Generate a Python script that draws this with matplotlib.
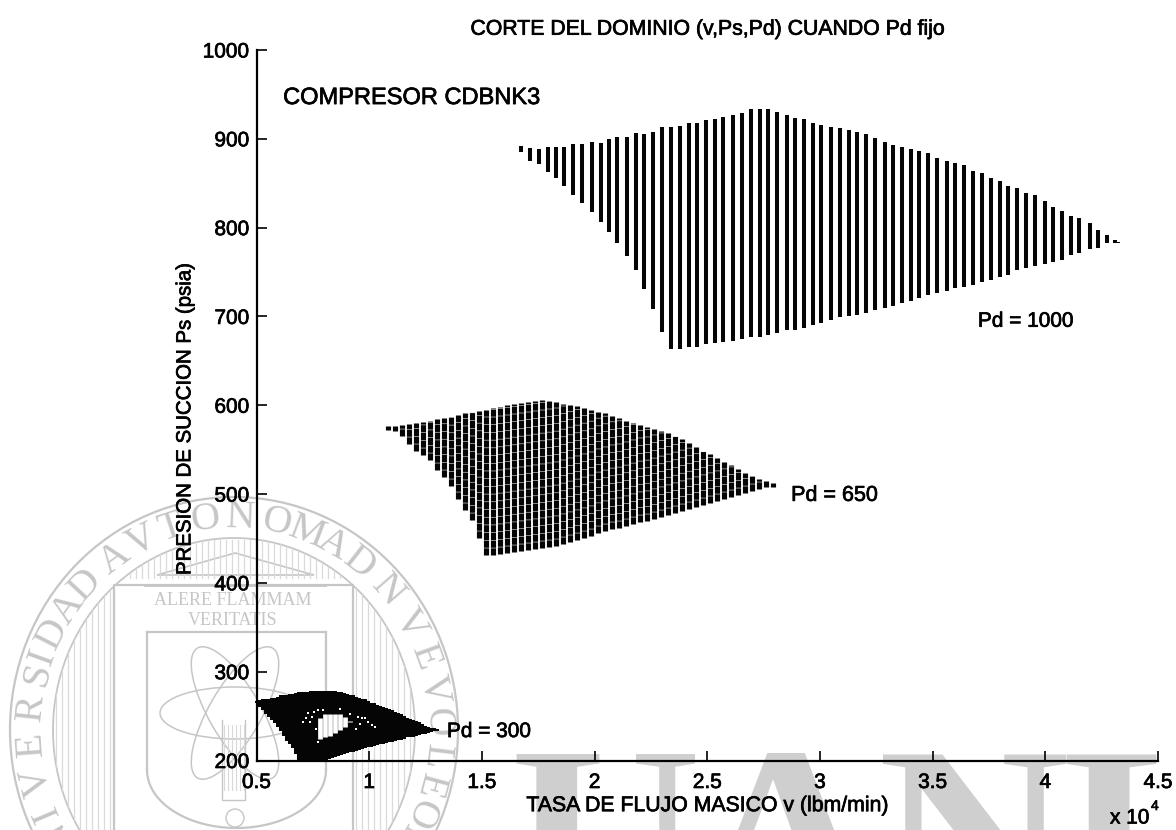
import numpy as np
import matplotlib
matplotlib.use("Agg")
import matplotlib.pyplot as plt
from matplotlib.patches import Ellipse, Polygon, Circle
import matplotlib.patheffects as pe

plt.rcParams['font.family'] = ['Liberation Sans', 'DejaVu Sans']

# Pd = 1000 columns: flow (x 10^4 lbm/min), lowest and highest suction pressure (psia)
v_1000 = [1.672,1.714,1.753,1.792,1.829,1.864,1.906,1.944,1.987,2.027,2.063,2.101,2.143,2.182,2.221,2.259,2.299,2.339,
          2.379,2.419,2.455,2.494,2.534,2.571,2.616,2.656,2.693,2.733,2.770,2.808,2.853,2.889,2.928,2.969,3.006,3.049,
          3.088,3.128,3.166,3.203,3.243,3.287,3.324,3.363,3.403,3.441,3.481,3.521,3.562,3.601,3.639,3.679,3.718,3.760,
          3.800,3.836,3.876,3.916,3.955,3.997,4.034,4.074,4.113,4.149,4.197,4.235,4.272,4.309,4.322]
hi_1000 = [892,889.5,888,890.7,890.7,890.7,894,894,896.3,895.2,899.7,902,902,906.4,905.3,907.6,913.2,913.2,
           914.3,917.7,917.7,921.1,922.2,924.5,926.7,929,933.5,933.5,933.5,930.1,926.7,923.3,922.2,917.7,915.4,913.2,
           912,909.8,907.6,905.3,900.8,896.3,892.9,890.7,888.4,886.2,883.9,878.3,874.9,872.6,870.4,863.6,861.4,855.7,
           852.4,846.7,844.5,838.8,836.6,829.8,823.1,818.5,812.9,810.7,805,797.1,791.5,786,783.6]
lo_1000 = [885,875,871.5,862.5,855.7,846.7,836.6,827.6,817.4,806.2,794.9,782.5,767.8,752,730.7,708.1,682.2,663,
           663,665.3,665.3,668.7,669.8,670.9,672,674.3,676.6,676.6,678.8,681.1,684.5,684.5,686.7,690.1,692.3,695.7,
           699,700.2,701.4,703.6,707,709.3,711.5,714.9,717.1,720.5,723.9,726.1,728.4,731.8,732.9,735.2,738.5,740.8,
           744.2,746.4,752,754.3,756.6,758.8,761.1,763.3,769,771.2,775.7,776.9,782.5,782.5,782.5]

# Pd = 650 columns
v_650 = [1.083,1.114,1.145,1.176,1.207,1.238,1.270,1.301,1.332,1.363,1.394,1.425,1.456,1.487,1.518,1.549,1.580,1.611,
         1.642,1.673,1.704,1.735,1.767,1.798,1.829,1.860,1.891,1.922,1.953,1.984,2.015,2.046,2.077,2.108,2.139,2.170,
         2.201,2.232,2.264,2.295,2.326,2.357,2.388,2.419,2.450,2.481,2.512,2.543,2.574,2.605,2.636,2.667,2.698,2.729,
         2.761,2.792]
hi_650 = [577,576.3,577.4,578.5,579.7,580.8,581.9,584.2,585.3,586.4,588.7,590.9,592,593.2,594.3,596.6,597.7,600,
          601.1,602.2,603.3,604.4,605.6,604.4,603.3,601.1,600,598.8,596.6,594.3,592,590.9,587.5,585.3,581.9,579.7,
          577.4,575.2,572.9,570.7,568.4,565,561.6,557.1,552.6,548,544.7,540.2,535.7,532.3,527.8,523.3,519.9,516.6,
          514.3,513]
lo_650 = [572,570.7,565,556,548,543.6,538,526.7,518.8,508.7,494,481.6,470.4,450,430.9,430.9,432,433.2,
          434.3,435.4,436.5,437.7,438.8,439.9,441.1,443.3,445.6,447.8,450,452.3,455.7,457.9,460.2,461.3,463.6,465.8,
          468.1,469.2,471.5,473.7,476,478.2,480.5,482.8,485,487.3,489.5,491.8,494,496.3,498.5,500.8,503,505.3,
          507.5,508]

# Pd = 300 columns
v_300 = [.502,.515,.529,.542,.555,.569,.582,.595,.609,.622,.635,.649,.662,.675,.689,.702,.715,.729,.742,.755,
         .768,.782,.795,.808,.822,.835,.848,.862,.875,.888,.902,.915,.928,.941,.955,.968,.981,.995,1.008,1.021,
         1.035,1.048,1.061,1.075,1.088,1.101,1.115,1.128,1.141,1.155,1.168,1.181,1.194,1.208,1.221,1.234,1.248,
         1.261,1.274,1.288,1.30]
hi_300 = [267,268,268.7,269.3,269.8,270.4,270.9,272,273.2,273.8,
          274.3,274.9,275.4,276,276.6,276.9,277.1,277.4,277.7,278,
          278.2,278.5,278.8,278.8,278.8,278.3,277.7,277.1,276.6,276,
          275.4,274.3,273.2,272,270.9,269.8,268.7,267,265.3,264.2,
          263,261.6,260.2,259.4,258.5,256.8,255.1,253.5,251.8,250.1,
          248.4,247,245.6,244.2,242.8,241,239.4,238.2,237.1,236.5,236]
lo_300 = [265.3,260.8,256.3,252.9,249.5,246.1,242.7,238.2,233.7,228.1,
          222.5,218.6,214.6,207.8,200,200,200,200,200,200,
          200,200,200,201,202.2,203,203.9,205,206.1,207.2,
          208.4,209.2,210,211.2,212.3,213.1,214,214.8,215.7,216.5,
          217.4,218.2,219.1,220,220.8,221.3,221.9,222.7,223.6,224.7,
          225.9,226.4,227,227.8,228.7,229.5,230.3,231.4,232.6,233.2,233.7]

# White gap inside the Pd = 300 region
v_gap = [.782,.804,.826,.848,.870,.893,.915]
hi_gap = [247.3,251.8,252.9,252.9,251.8,249.5,245]
lo_gap = [224.7,225.9,228.1,231.5,234.9,238.2,242.8]
v_speck = [.729,.746,.737,.755,.773,.764,.773,.795,.870,.950,.968,.995,1.012,.959,.941,.720,.706,.981,1.026,.915]
p_speck = [254,249.5,242.8,255.1,257.4,236,221.3,257.4,258.5,249.5,247.3,242.8,240.5,241.6,236,247.3,242.8,248.4,238.2,251.8]

x_ticks = [0.5,1,1.5,2,2.5,3,3.5,4,4.5]
x_labels = ['0.5','1','1.5','2','2.5','3','3.5','4','4.5']
y_ticks = [200,300,400,500,600,700,800,900,1000]

W, H = 1176, 830
fig = plt.figure(figsize=(W/100, H/100), dpi=100, facecolor='white')

# Background seal (watermark), in picture coordinates
bg = fig.add_axes([0, 0, 1, 1], zorder=0)
bg.set_xlim(0, W); bg.set_ylim(H, 0); bg.axis('off')
G = '#c6c6c6'; G2 = '#dadada'
cx, cy = 234, 730
bg.add_patch(Ellipse((cx, cy), 448, 466, fill=False, ec=G, lw=1.6))
bg.add_patch(Ellipse((cx, cy), 362, 384, fill=False, ec=G, lw=1.3))
clip = Ellipse((cx, cy), 362, 384, transform=bg.transData)
for xx in list(range(56, 114, 6)) + list(range(356, 416, 6)):
    l = bg.plot([xx, xx], [530, 830], color=G2, lw=0.9)[0]; l.set_clip_path(clip)
for xx in range(118, 352, 6):
    l = bg.plot([xx, xx], [540, 578], color=G2, lw=0.9)[0]; l.set_clip_path(clip)
bg.plot([114, 114, 353, 353], [830, 585, 585, 830], color=G, lw=1.6)
bg.plot([147, 147], [632, 770], color=G, lw=1.6)
bg.plot([326, 326], [632, 770], color=G, lw=1.6)
bg.plot([147, 326], [632, 632], color=G, lw=1.6)
t = np.linspace(0, np.pi, 50)
bg.plot(236.5 + 89.5*np.cos(t), 770 + 58*np.sin(t), color=G, lw=1.6)
bg.add_patch(Polygon([[157, 575], [235, 553], [314, 575]], closed=True, fill=False, ec=G, lw=1.2))
bg.plot([145, 325], [585, 585], color=G, lw=2)
for a in (0, 60, -60):
    bg.add_patch(Ellipse((235, 713), 150, 52, angle=a, fill=False, ec=G, lw=1.1))
bg.plot([222, 222, 245, 245], [720, 800, 800, 720], color=G, lw=1)
for xx in range(224, 245, 4):
    bg.plot([xx, xx], [725, 790], color=G2, lw=0.8)
bg.add_patch(Circle((235, 818), 9, fill=False, ec=G, lw=1))
bg.text(233, 600, 'ALERE FLAMMAM', family='Liberation Serif', fontsize=13, color=G, ha='center', va='center')
bg.text(233, 620, 'VERITATIS', family='Liberation Serif', fontsize=13, color=G, ha='center', va='center')
seal = [('N',210),('I',203),('V',194),('E',184),('R',174),('S',165),('I',160),('D',153),('A',145),('D',137),
        ('A',126),('V',117),('T',108),('O',98),('N',88),('O',78),('M',69),('A',61),('D',52),('N',41),('V',30),
        ('E',20),('V',11),('O',2),('L',-7),('E',-15),('O',-23),('N',-31)]
for ch, ang in seal:
    r = np.deg2rad(ang)
    bg.text(cx + 203*np.cos(r), cy - 212*np.sin(r), ch, family='Liberation Serif', fontsize=29, color=G,
            rotation=ang-90, rotation_mode='anchor', ha='center', va='center')
for ch, xx in [('U', 605), ('A', 785), ('N', 974), ('L', 1150)]:
    bg.text(xx, 928, ch, family='Liberation Serif', weight='bold', fontsize=191, color='#cfcfcf',
            ha='center', va='baseline', clip_on=True)

# Main chart
ax = fig.add_axes([256.5/W, 1-760.5/H, 901.5/W, 710.5/H], zorder=1)
ax.patch.set_alpha(0)
ax.set_xlim(0.5, 4.5); ax.set_ylim(200, 1000)
ax.vlines(v_1000, lo_1000, hi_1000, color='#050505', lw=2.9, capstyle='butt')
ax.vlines(v_650, lo_650, hi_650, color='#050505', lw=3.7, linestyles=[(0, (1.4, 0.1))], capstyle='butt')
ax.vlines(v_300, lo_300, hi_300, color='#050505', lw=2.9, capstyle='butt', clip_on=False)
ax.vlines(v_gap, lo_gap, hi_gap, color='white', lw=3.4, capstyle='butt')
ax.scatter(v_speck, p_speck, s=4, color='white', marker='s', linewidths=0, zorder=3)

for s in ('top', 'right'):
    ax.spines[s].set_visible(False)
for s in ('left', 'bottom'):
    ax.spines[s].set_linewidth(1.6)
ax.set_xticks(x_ticks); ax.set_xticklabels(x_labels)
ax.set_yticks(y_ticks)
ax.tick_params(direction='in', length=7, width=1.2, labelsize=15, pad=5)
ax.tick_params(axis='x', pad=9)

stroke = [pe.withStroke(linewidth=0.5, foreground='black')]
ax.set_title('CORTE DEL DOMINIO (v,Ps,Pd) CUANDO Pd fijo', fontsize=15.3, y=1.0, pad=11)
ax.set_xlabel('TASA DE FLUJO MASICO v (lbm/min)', fontsize=15.3, labelpad=3)
ax.set_ylabel('PRESION DE SUCCION Ps (psia)', fontsize=14.7, y=0.48, labelpad=6)
ax.text(0.618, 945.9, 'COMPRESOR CDBNK3', fontsize=17, va='center')
ax.text(3.701, 694.6, 'Pd = 1000', fontsize=15, va='center')
ax.text(2.872, 498.5, 'Pd = 650', fontsize=15.5, va='center')
ax.text(1.345, 232.6, 'Pd = 300', fontsize=15, va='center')
fig.text(1110/W, 1-818/H, 'x 10', fontsize=15, va='center')
fig.text(1151/W, 1-806/H, '4', fontsize=10, va='center')
for txt in ax.texts + fig.texts + [ax.title, ax.xaxis.label, ax.yaxis.label] + ax.get_xticklabels() + ax.get_yticklabels():
    txt.set_path_effects(stroke)

fig.savefig('out.png', dpi=100)
